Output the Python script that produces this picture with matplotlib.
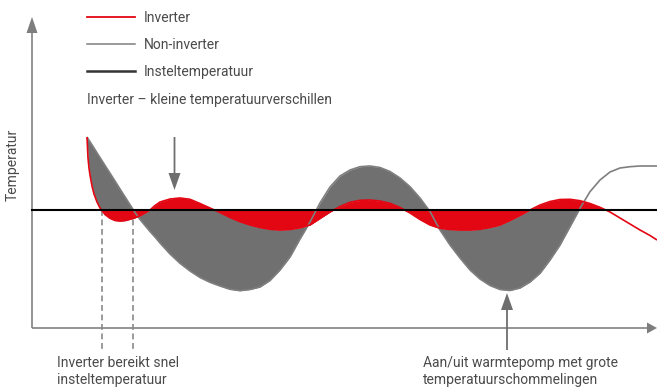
import numpy as np
import matplotlib
matplotlib.use("Agg")
import matplotlib.pyplot as plt
from matplotlib.lines import Line2D

plt.rcParams['font.family'] = ['Roboto', 'DejaVu Sans']

# ---------------- data ----------------
time = np.array([87, 88, 89, 90, 92, 94, 97, 100, 105, 110, 115, 120, 125, 130, 135, 140, 145, 150,
                 155, 160, 170, 180, 190, 200, 210, 220, 230, 240, 250, 260, 270, 280, 290, 300,
                 310, 320, 330, 340, 350, 360, 370, 380, 390, 400, 410, 420, 430, 440, 450, 460,
                 470, 480, 490, 500, 510, 520, 530, 540, 550, 560, 570, 580, 590, 600, 610, 620,
                 630, 640, 650, 657])

inverter = np.array([73, 52, 42, 35, 24, 16, 8, 2, -4.5, -8.3, -10.5, -11, -10.6, -9.3, -7.8, -5.8, -3, 0,
                     4.5, 8, 11, 12, 10.7, 6.5, 2, -2.5, -7.5, -11.7, -15, -17.5, -19.3, -20, -19.5, -17.8,
                     -15, -8.5, -2, 3.5, 7.7, 9.7, 10, 9, 6.7, 2.5, -3, -9.5, -15, -18.3, -19.5, -20,
                     -20, -19.3, -17.5, -15, -10.5, -5.5, 0, 5, 8.5, 10.5, 10.7, 9.3, 6.5, 2.7, -2, -8,
                     -14, -20, -25.5, -30])

non_inverter = np.array([73, 71.4, 69.8, 68.3, 65.1, 62, 57.2, 52.5, 44.6, 36.8, 29, 21, 13.2, 5.3, -2.5, -9.5, -15.5, -21.5,
                         -27, -33, -44, -53.3, -61, -67.5, -72.3, -76, -79.3, -80.7, -79.5, -77, -70.5, -60, -47, -29,
                         -12, 7, 23, 34, 40, 43.3, 44, 42.5, 38.5, 32, 23.3, 12, -1.5, -20, -35, -48,
                         -60, -69, -75.5, -79.5, -80.5, -78, -72, -63.3, -50, -35, -16.7, 1.7, 18.3, 30, 38, 42,
                         43.3, 44, 44, 44])

SETPOINT = 0

legend_labels = ["Inverter", "Non-inverter", "Insteltemperatuur"]
y_label = "Temperatur"
note_top = "Inverter – kleine temperatuurverschillen"
note_left = "Inverter bereikt snel\ninsteltemperatuur"
note_right = "Aan/uit warmtepomp met grote\ntemperatuurschommelingen"

# ---------------- style ----------------
RED = "#e30613"
GRAY_FILL = "#6f706f"
GRAY_LINE = "#7f7f7f"
AXIS_GRAY = "#7d7d7d"
ARROW_GRAY = "#6e6e6e"
TEXT = "#4a4a4a"
FS = 10

fig = plt.figure(figsize=(6.57, 3.90), dpi=100)
ax = fig.add_axes([0, 0, 1, 1])
ax.set_xlim(0, 657)
ax.set_ylim(-180, 210)
ax.axis('off')

# fills
ax.fill_between(time, non_inverter, inverter, where=time <= 580, interpolate=True,
                color=GRAY_FILL, lw=0, zorder=2)
ax.fill_between(time, inverter, SETPOINT, where=(time >= 105) & (time <= 600), interpolate=True,
                color=RED, lw=0, zorder=3)

# lines
ax.plot(time, non_inverter, color=GRAY_LINE, lw=1.2, zorder=4, solid_capstyle='butt')
ax.plot(time, inverter, color=RED, lw=1.2, zorder=5, solid_capstyle='butt')
x_axis_start = 32
ax.plot([x_axis_start, 657], [SETPOINT, SETPOINT], color="black", lw=1.5, zorder=6)

# axes with arrows
x_axis_level = -118
ax.arrow(x_axis_start, x_axis_level, 0, 193 - x_axis_level, width=1.6, head_width=11,
         head_length=16, length_includes_head=True, color=AXIS_GRAY, lw=0, zorder=1)
ax.arrow(x_axis_start, x_axis_level, 657 - x_axis_start, 0, width=1.6, head_width=11,
         head_length=10, length_includes_head=True, color=AXIS_GRAY, lw=0, zorder=1, clip_on=False)


def first_crossing(t, v):
    idx = np.where(np.diff(np.sign(v - SETPOINT)) != 0)[0][0]
    t0, t1, v0, v1 = t[idx], t[idx + 1], v[idx], v[idx + 1]
    return t0 + (SETPOINT - v0) * (t1 - t0) / (v1 - v0)


for tc in (first_crossing(time, inverter), first_crossing(time, non_inverter)):
    ax.plot([tc, tc], [SETPOINT, -142], color="#8a8a8a", lw=1.2, ls=(0, (3.5, 2.2)), zorder=1)

# annotation arrows
ax.arrow(174.5, 73, 0, -53, width=1.8, head_width=12, head_length=17,
         length_includes_head=True, color=ARROW_GRAY, lw=0, zorder=7)
ax.arrow(507, -140, 0, 57, width=1.8, head_width=12, head_length=17,
         length_includes_head=True, color=ARROW_GRAY, lw=0, zorder=7)

# texts
ax.text(13, 45, y_label, rotation=90, ha='center', va='center', fontsize=FS, color=TEXT)
ax.text(87, 110, note_top, ha='left', va='center', fontsize=FS, color=TEXT)
ax.text(57, -161.5, note_left, ha='left', va='center', fontsize=FS, color=TEXT, linespacing=1.3)
ax.text(423, -161.5, note_right, ha='left', va='center', fontsize=FS, color=TEXT, linespacing=1.3)

# legend
handles = [Line2D([], [], color=RED, lw=1.3),
           Line2D([], [], color=GRAY_LINE, lw=1.1),
           Line2D([], [], color="#333333", lw=1.8)]
leg = ax.legend(handles, legend_labels, loc='upper left', bbox_to_anchor=(87 / 657, 1 - 11 / 390),
                frameon=False, fontsize=FS, handlelength=3.45, handletextpad=0.65,
                labelspacing=0.92, borderpad=0, borderaxespad=0)
for t in leg.get_texts():
    t.set_color(TEXT)

fig.savefig("out.png", dpi=100)
